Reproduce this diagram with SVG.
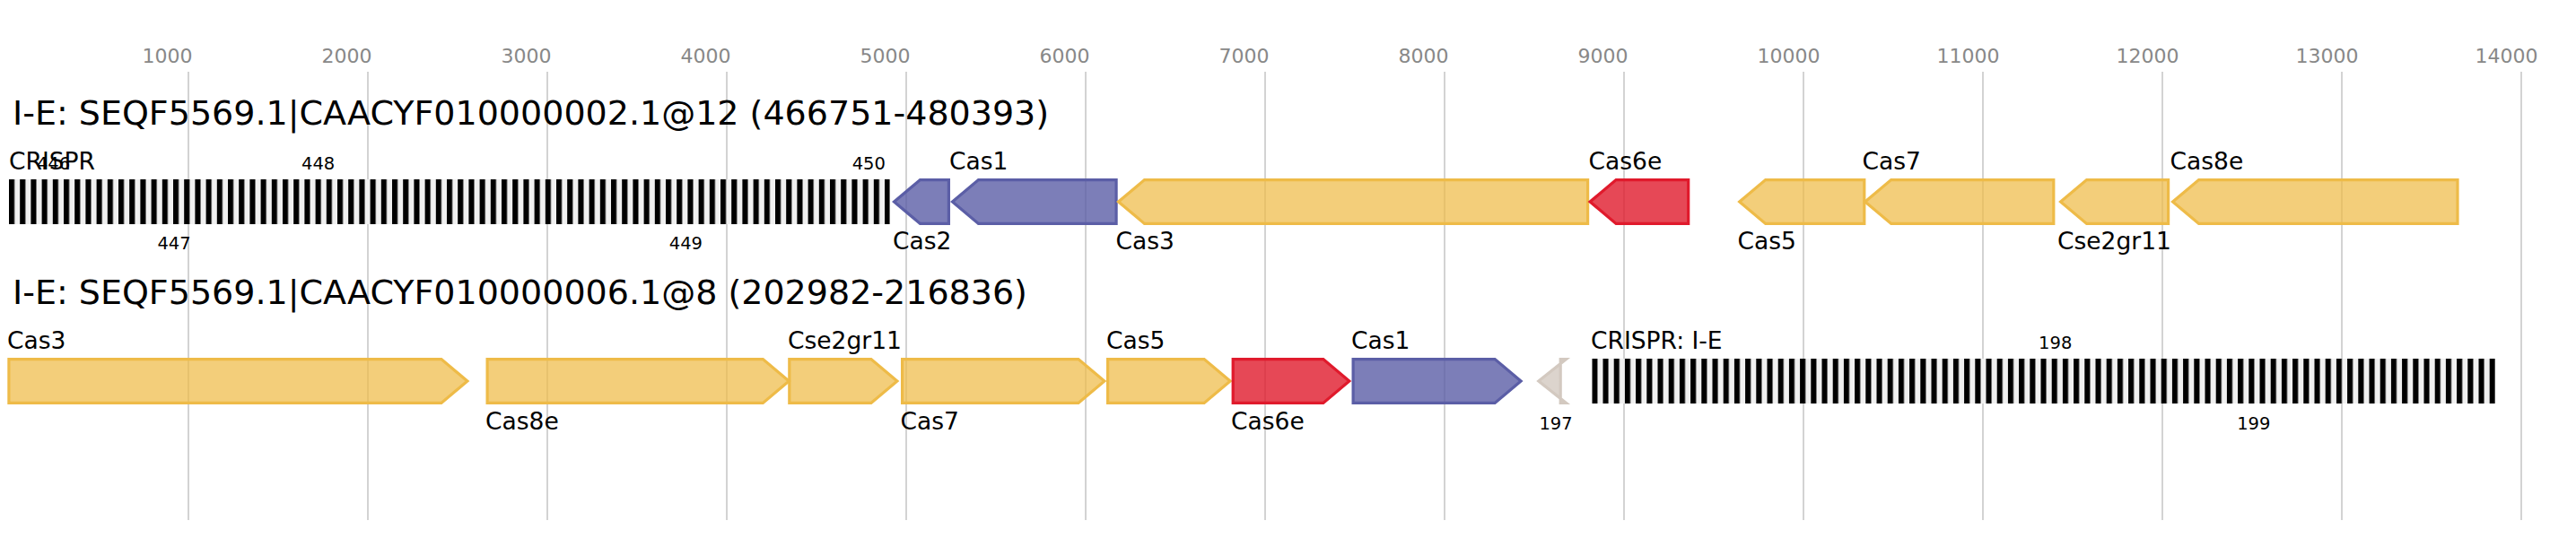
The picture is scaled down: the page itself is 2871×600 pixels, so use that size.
<svg xmlns="http://www.w3.org/2000/svg" width="2871" height="600" viewBox="0 0 2871 600">
<style>
.grid{stroke:#c0c0c0;stroke-width:1.4}
.tick{font-family:"DejaVu Sans",sans-serif;font-size:22px;fill:#888888}
.title{font-family:"DejaVu Sans",sans-serif;font-size:38px;fill:#000}
.lbl{font-family:"DejaVu Sans",sans-serif;font-size:26.5px;fill:#000}
.num{font-family:"DejaVu Sans",sans-serif;font-size:19.5px;fill:#000;text-anchor:middle}
.y{fill:#efbb47;fill-opacity:0.72;stroke:#eebb48;stroke-width:3.2}
.b{fill:#5b5ea6;fill-opacity:0.8;stroke:#5b5ea6;stroke-width:3.2}
.r{fill:#e01a2c;fill-opacity:0.8;stroke:#e01a2c;stroke-width:3.2}
.g{fill:#d3c9c0;fill-opacity:0.8;stroke:#d3c9c0;stroke-width:3.2}
</style>
<defs>
<pattern id="rep" patternUnits="userSpaceOnUse" x="0" y="0" width="12.2" height="50">
<rect x="0" y="0" width="12.2" height="50" fill="#f0f0f0"/>
<rect x="0" y="0" width="6.1" height="50" fill="#000"/>
</pattern>
</defs>
<g id="axis">
<line class="grid" x1="210" y1="80" x2="210" y2="580"/>
<line class="grid" x1="410" y1="80" x2="410" y2="580"/>
<line class="grid" x1="610" y1="80" x2="610" y2="580"/>
<line class="grid" x1="810" y1="80" x2="810" y2="580"/>
<line class="grid" x1="1010" y1="80" x2="1010" y2="580"/>
<line class="grid" x1="1210" y1="80" x2="1210" y2="580"/>
<line class="grid" x1="1410" y1="80" x2="1410" y2="580"/>
<line class="grid" x1="1610" y1="80" x2="1610" y2="580"/>
<line class="grid" x1="1810" y1="80" x2="1810" y2="580"/>
<line class="grid" x1="2010" y1="80" x2="2010" y2="580"/>
<line class="grid" x1="2210" y1="80" x2="2210" y2="580"/>
<line class="grid" x1="2410" y1="80" x2="2410" y2="580"/>
<line class="grid" x1="2610" y1="80" x2="2610" y2="580"/>
<line class="grid" x1="2810" y1="80" x2="2810" y2="580"/>
<text class="tick" x="158.5" y="70">1000</text>
<text class="tick" x="358.5" y="70">2000</text>
<text class="tick" x="558.5" y="70">3000</text>
<text class="tick" x="758.5" y="70">4000</text>
<text class="tick" x="958.5" y="70">5000</text>
<text class="tick" x="1158.5" y="70">6000</text>
<text class="tick" x="1358.5" y="70">7000</text>
<text class="tick" x="1558.5" y="70">8000</text>
<text class="tick" x="1758.5" y="70">9000</text>
<text class="tick" x="1958.5" y="70">10000</text>
<text class="tick" x="2158.5" y="70">11000</text>
<text class="tick" x="2358.5" y="70">12000</text>
<text class="tick" x="2558.5" y="70">13000</text>
<text class="tick" x="2758.5" y="70">14000</text>
</g>
<g id="locus1-title"><text class="title" x="14" y="139">I-E: SEQF5569.1|CAACYF010000002.1@12 (466751-480393)</text></g>
<g id="locus2-title"><text class="title" x="14" y="339">I-E: SEQF5569.1|CAACYF010000006.1@8 (202982-216836)</text></g>
<g id="connectors"></g>
<!-- Locus 1 -->
<g id="l1-crispr">
<g transform="translate(10,200)"><rect x="0" y="0" width="981.7" height="50" fill="url(#rep)"/></g>
<text class="lbl" x="10" y="189">CRISPR</text>
<text class="num" x="59.5" y="189">446</text>
<text class="num" x="194" y="278">447</text>
<text class="num" x="354.6" y="189">448</text>
<text class="num" x="764.4" y="278">449</text>
<text class="num" x="968.3" y="189">450</text>
</g>
<g id="l1-cas2"><path class="b" d="M996.5,225 L1025.5,200.6 L1057.4,200.6 L1057.4,249.4 L1025.5,249.4 Z"/><text class="lbl" x="995" y="278">Cas2</text></g>
<g id="l1-cas1"><path class="b" d="M1061.5,225 L1090.5,200.6 L1244.1,200.6 L1244.1,249.4 L1090.5,249.4 Z"/><text class="lbl" x="1058" y="189">Cas1</text></g>
<g id="l1-cas3"><path class="y" d="M1246.5,225 L1275.5,200.6 L1769.6,200.6 L1769.6,249.4 L1275.5,249.4 Z"/><text class="lbl" x="1243.5" y="278">Cas3</text></g>
<g id="l1-cas6e"><path class="r" d="M1772.1,225 L1801.1,200.6 L1881.7,200.6 L1881.7,249.4 L1801.1,249.4 Z"/><text class="lbl" x="1770.5" y="189">Cas6e</text></g>
<g id="l1-cas5"><path class="y" d="M1938.7,225 L1967.7,200.6 L2077.8,200.6 L2077.8,249.4 L1967.7,249.4 Z"/><text class="lbl" x="1936.5" y="278">Cas5</text></g>
<g id="l1-cas7"><path class="y" d="M2078.7,225 L2107.7,200.6 L2288.8,200.6 L2288.8,249.4 L2107.7,249.4 Z"/><text class="lbl" x="2075.5" y="189">Cas7</text></g>
<g id="l1-cse2gr11"><path class="y" d="M2296.6,225 L2325.6,200.6 L2416.6,200.6 L2416.6,249.4 L2325.6,249.4 Z"/><text class="lbl" x="2293" y="278">Cse2gr11</text></g>
<g id="l1-cas8e"><path class="y" d="M2421.6,225 L2450.6,200.6 L2739,200.6 L2739,249.4 L2450.6,249.4 Z"/><text class="lbl" x="2418.5" y="189">Cas8e</text></g>
<!-- Locus 2 -->
<g id="l2-cas3"><path class="y" d="M9.9,400.6 L491.9,400.6 L520.9,425 L491.9,449.4 L9.9,449.4 Z"/><text class="lbl" x="8" y="389">Cas3</text></g>
<g id="l2-cas8e"><path class="y" d="M543.1,400.6 L850.3,400.6 L879.3,425 L850.3,449.4 L543.1,449.4 Z"/><text class="lbl" x="541" y="479">Cas8e</text></g>
<g id="l2-cse2gr11"><path class="y" d="M879.8,400.6 L970.9,400.6 L999.9,425 L970.9,449.4 L879.8,449.4 Z"/><text class="lbl" x="878" y="389">Cse2gr11</text></g>
<g id="l2-cas7"><path class="y" d="M1005.6,400.6 L1201.9,400.6 L1230.9,425 L1201.9,449.4 L1005.6,449.4 Z"/><text class="lbl" x="1003.5" y="479">Cas7</text></g>
<g id="l2-cas5"><path class="y" d="M1234.6,400.6 L1342.1,400.6 L1371.1,425 L1342.1,449.4 L1234.6,449.4 Z"/><text class="lbl" x="1233" y="389">Cas5</text></g>
<g id="l2-cas6e"><path class="r" d="M1374.2,400.6 L1474.8,400.6 L1503.8,425 L1474.8,449.4 L1374.2,449.4 Z"/><text class="lbl" x="1372" y="479">Cas6e</text></g>
<g id="l2-cas1"><path class="b" d="M1508.1,400.6 L1666.1,400.6 L1695.1,425 L1666.1,449.4 L1508.1,449.4 Z"/><text class="lbl" x="1506" y="389">Cas1</text></g>
<g id="l2-197"><path class="g" d="M1714.8,425 L1745.5,400.6 L1739.2,400.6 L1739.2,449.4 L1745.5,449.4 Z"/><text class="num" x="1734" y="479">197</text></g>
<g id="l2-crispr">
<g transform="translate(1774.3,400)"><rect x="0" y="0" width="1006.7" height="50" fill="url(#rep)"/></g>
<text class="lbl" x="1773" y="389">CRISPR: I-E</text>
<text class="num" x="2290.7" y="389">198</text>
<text class="num" x="2511.8" y="479">199</text>
</g>
</svg>
